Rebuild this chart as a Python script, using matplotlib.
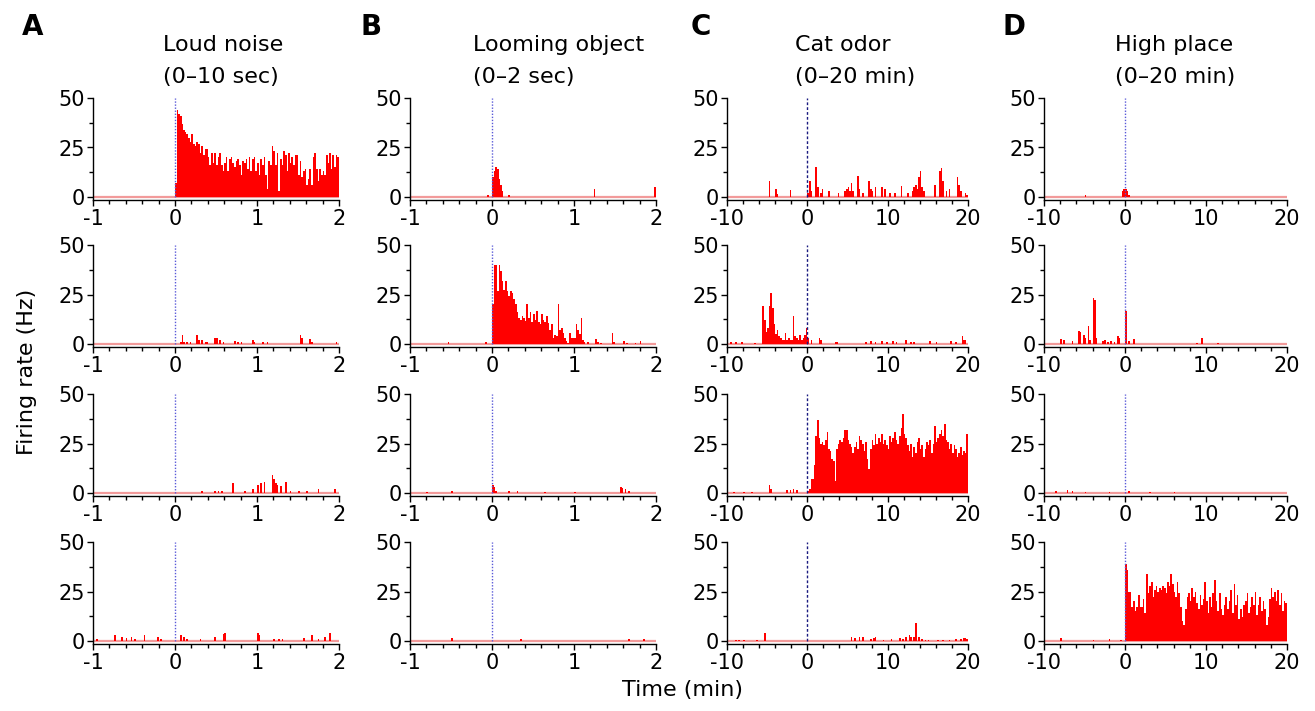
import numpy as np
import matplotlib
matplotlib.use("Agg")
import matplotlib.pyplot as plt
from matplotlib.ticker import MultipleLocator, FixedLocator

plt.rcParams['font.family'] = ['DejaVu Sans']
plt.rcParams['axes.unicode_minus'] = False

# ---------------- data ----------------
BIN_SEC = 0.02   # bin width for columns A, B (seconds)
BIN_MIN = 0.2    # bin width for columns C, D (minutes)

titles = [("Loud noise", "(0\u201310 sec)"), ("Looming object", "(0\u20132 sec)"),
          ("Cat odor", "(0\u201320 min)"), ("High place", "(0\u201320 min)")]
letters = ["A", "B", "C", "D"]
xticks_sec = [-1, 0, 1, 2]
xticks_min = [-10, 0, 10, 20]
yticks = [0, 25, 50]

# Column A (loud noise), rates in Hz
A1_rates = [7, 44, 42, 41, 37, 34, 33, 32, 30, 28, 32, 27, 26, 28, 27, 22, 26, 21, 24, 24,
            20, 16, 22, 17, 22, 16, 20, 22, 16, 13, 17, 20, 13, 19, 20, 17, 15, 18, 19, 16,
            11, 18, 17, 19, 14, 20, 13, 19, 20, 13, 17, 11, 19, 16, 20, 11, 4, 18, 16, 26,
            23, 16, 22, 3, 19, 16, 23, 21, 13, 22, 17, 20, 16, 21, 21, 11, 18, 10, 13, 14,
            6, 9, 14, 6, 20, 22, 14, 8, 14, 11, 13, 11, 21, 17, 22, 14, 21, 15, 21, 20]
A1_start = 0.0
A2_t = [0.06, 0.08, 0.10, 0.14, 0.18, 0.26, 0.28, 0.32, 0.36, 0.38, 0.48, 0.50, 0.54, 0.58,
        0.72, 0.76, 0.80, 0.94, 0.96, 1.06, 1.12, 1.52, 1.54, 1.64, 1.66, 1.96]
A2_r = [1, 4.4, 1, 1, 1, 4.4, 2, 2, 1, 1, 3, 3, 2, 1, 1.5, 1, 1, 2, 1, 1, 1, 4.4, 3, 2.5, 1, 1]
A3_t = [0.32, 0.48, 0.52, 0.56, 0.70, 0.84, 0.94, 1.00, 1.04, 1.08, 1.18, 1.20, 1.22, 1.24,
        1.28, 1.34, 1.40, 1.50, 1.60, 1.74, 1.94]
A3_r = [1, 1, 1, 1, 5, 1, 2, 4, 5, 5.5, 9, 7, 5, 4, 3.5, 5.5, 1, 1, 1, 2, 2]
A4_t = [-0.96, -0.74, -0.66, -0.60, -0.54, -0.50, -0.38, -0.22, -0.18, 0.06, 0.10, 0.14, 0.30,
        0.48, 0.58, 0.60, 1.00, 1.02, 1.20, 1.26, 1.30, 1.56, 1.66, 1.74, 1.82, 1.88]
A4_r = [1, 3, 2, 1.5, 2, 1, 3, 2, 1, 3, 2, 1, 1, 2, 3.5, 4, 4, 3, 1, 1, 1, 1.5, 3, 1, 2, 4]

# Column B (looming object)
B1_t = [-0.06, 0.00, 0.02, 0.04, 0.06, 0.08, 0.10, 0.12, 0.20, 1.24, 1.98]
B1_r = [1, 10, 13, 15, 14, 9, 6, 3, 1, 4, 5]
B2_rates = [20, 40, 40, 27, 40, 37, 32, 27.5, 32, 27, 24, 27, 26, 22.5, 20, 16, 13, 12, 14, 13,
            11.5, 20, 13, 16, 11, 15, 12, 16.5, 11, 10, 15, 12, 11, 14, 10.5, 7, 10, 3, 4.7, 4,
            20, 7, 8, 5.5, 3, 1.3, 0.5, 5.5, 3, 3, 3, 10, 7, 5, 13, 2, 1]
B2_start = 0.0
B2_t = [-0.54, -0.08, 1.16, 1.26, 1.28, 1.32, 1.46, 1.48, 1.60, 1.64, 1.74, 1.80]
B2_r = [1, 1, 1, 2.5, 1, 0.5, 5.5, 1, 1.5, 0.5, 0.5, 1.5]
B3_t = [-0.80, -0.50, 0.00, 0.02, 0.04, 0.20, 0.30, 0.64, 1.00, 1.56, 1.58, 1.62, 1.66]
B3_r = [0.5, 1, 4, 3, 1, 1, 1, 0.5, 0.5, 3, 2.5, 2, 1]
B4_t = [-0.50, 0.34, 1.66, 1.84]
B4_r = [1.5, 0.8, 0.8, 1]

# Column C (cat odor), time in min
C1_t = [-4.8, -4.0, -3.8, -2.2, 0.0, 0.2, 0.4, 1.0, 1.2, 1.6, 1.8, 2.6, 3.8, 4.6, 4.8, 5.0, 5.2,
        5.4, 5.6, 6.2, 6.4, 6.8, 7.6, 7.8, 8.0, 8.4, 9.2, 9.6, 10.2, 10.8, 11.6, 12.4, 13.0,
        13.2, 13.4, 13.6, 13.8, 14.0, 14.2, 14.4, 15.8, 16.4, 16.6, 16.8, 17.2, 17.6, 18.6,
        18.8, 19.0, 19.6, 19.8]
C1_r = [8, 4, 1.5, 3.7, 2, 8, 3, 15, 5, 2, 4, 3, 2, 3, 4, 5, 3, 7, 3, 10.6, 4, 2, 8, 4, 3, 5, 5,
        4, 2, 2, 5.6, 2, 3, 5, 6, 4, 10, 13, 5, 3, 6, 13, 14.4, 8, 3, 4, 10, 6, 3, 2, 1]
C2_t = [-9.6, -9.0, -8.2, -6.6, -5.6, -5.4, -5.2, -5.0, -4.8, -4.6, -4.4, -4.2, -4.0, -3.8,
        -3.6, -3.4, -3.2, -3.0, -2.8, -2.6, -2.4, -2.2, -2.0, -1.8, -1.6, -1.4, -1.2, -1.0,
        -0.8, -0.6, -0.4, -0.2, 0.0, 0.4, 1.4, 1.6, 3.4, 3.6, 7.2, 7.8, 8.4, 9.2, 9.8, 10.6,
        11.0, 12.2, 12.8, 13.2, 15.2, 16.0, 17.8, 18.4, 19.2, 19.4, 19.6]
C2_r = [1, 1, 1, 0.5, 19, 12, 6, 8, 19, 26, 18, 10, 5, 7, 4, 3, 2, 2, 5.6, 2, 3, 2, 2, 14, 4, 3,
        2, 4.7, 2, 3, 4.7, 8, 3, 2, 3, 2, 1, 1, 1, 1.5, 1, 1.5, 1, 1.5, 1, 2, 1, 1, 1.5, 1, 1.5,
        1, 4, 2, 2]
C3_rates = [1, 2, 7, 7, 14, 29, 37, 28, 25, 26, 24, 27, 31, 22, 21, 17, 16, 6, 22, 25,
            27, 26, 28, 32, 32, 27, 25, 23, 20, 23, 26, 22, 29, 27, 25, 21, 26, 17, 12, 22,
            27, 24, 30, 25, 28, 26, 30, 25, 27, 24, 22, 29, 26, 28, 31, 27, 25, 29, 33, 40,
            30, 28, 24, 21, 25, 18, 23, 20, 26, 28, 22, 24, 18, 22, 26, 24, 27, 20, 25, 34,
            26, 28, 30, 32, 29, 35, 27, 26, 22, 25, 20, 24, 22, 18, 20, 23, 19, 21, 20, 30]
C3_start = 0.0
C3_t = [-9.2, -8.0, -7.0, -4.8, -4.6, -2.6, -2.2, -1.8, -1.4]
C3_r = [0.5, 0.5, 0.5, 4, 2, 1.5, 1.5, 2, 1.5]
C4_t = [-9.0, -8.6, -8.0, -6.4, -5.4, 5.4, 5.8, 6.4, 6.8, 7.8, 8.2, 8.4, 9.4, 10.4, 11.4, 11.8,
        12.2, 12.6, 12.8, 13.2, 13.4, 13.8, 14.2, 14.6, 15.0, 16.2, 16.8, 17.6, 18.4, 19.0,
        19.4, 19.6, 19.8]
C4_r = [0.5, 0.5, 0.5, 0.5, 4.2, 2, 1.5, 2, 2, 1, 1.5, 2, 0.5, 1, 1.5, 1, 2, 3, 2, 2, 9, 2, 1,
        0.5, 0.5, 0.5, 0.5, 0.5, 1, 1, 1.5, 1.5, 1]

# Column D (high place)
D1_t = [-5.0, -0.4, -0.2, 0.0, 0.2, 0.4]
D1_r = [1, 3, 4, 4, 3, 1]
D2_t = [-8.0, -7.6, -6.6, -5.8, -5.6, -5.2, -5.0, -4.6, -4.4, -4.0, -3.8, -3.6, -2.8, -2.6,
        -2.2, -1.8, -1.4, -1.0, -0.8, 0.0, 0.4, 1.0, 8.8, 9.4, 11.4]
D2_r = [2.7, 2, 1.5, 6.8, 6, 4.7, 3, 9.3, 2, 23, 22, 3, 1.7, 2, 1, 1.7, 1, 4, 3, 16.6, 1.5,
        2.7, 0.5, 2.9, 0.5]
D3_t = [-8.6, -7.2, -6.6, -5.0, -2.0, 0.4, 3.0, 6.0]
D3_r = [1, 1.5, 1, 0.5, 0.5, 1, 0.5, 0.5]
D4_rates = [39, 36, 25, 25, 17, 20, 15, 17, 23, 17, 17, 21, 14, 34, 24, 28, 30, 22, 26, 28,
            25, 27, 26, 28, 27, 24, 30, 28, 34, 29, 25, 22, 30, 24, 17, 10, 8, 16, 22, 24,
            20, 27, 22, 25, 19, 16, 23, 18, 21, 30, 20, 14, 22, 17, 24, 31, 20, 15, 24, 16,
            13, 18, 22, 16, 20, 26, 14, 29, 18, 23, 11, 16, 12, 18, 20, 24, 14, 17, 22, 18,
            25, 13, 18, 22, 15, 20, 16, 8, 12, 21, 27, 22, 25, 20, 26, 18, 24, 15, 20, 19]
D4_start = 0.0
D4_t = [-8.0, -4.0, -2.0, -0.6]
D4_r = [1.5, 0.5, 1, 0.5]

EMPTY = []
panels = [
    [(A1_start, A1_rates, EMPTY, EMPTY), (0.0, EMPTY, A2_t, A2_r),
     (0.0, EMPTY, A3_t, A3_r), (0.0, EMPTY, A4_t, A4_r)],
    [(0.0, EMPTY, B1_t, B1_r), (B2_start, B2_rates, B2_t, B2_r),
     (0.0, EMPTY, B3_t, B3_r), (0.0, EMPTY, B4_t, B4_r)],
    [(0.0, EMPTY, C1_t, C1_r), (0.0, EMPTY, C2_t, C2_r),
     (C3_start, C3_rates, C3_t, C3_r), (0.0, EMPTY, C4_t, C4_r)],
    [(0.0, EMPTY, D1_t, D1_r), (0.0, EMPTY, D2_t, D2_r),
     (0.0, EMPTY, D3_t, D3_r), (D4_start, D4_rates, D4_t, D4_r)],
]

# ---------------- layout ----------------
W, H = 1315, 711
fig = plt.figure(figsize=(W / 100, H / 100), dpi=100)
col_left = [93, 410, 727, 1044]
col_width = [246, 246, 241, 243]
row_y0 = [197, 344, 493, 641]       # pixel row of y = 0
px_per_hz = 1.98
ymin, ymax = -1.6, 50

FS = 15
for c in range(4):
    sec = c < 2
    bw = BIN_SEC if sec else BIN_MIN
    xlim = (-1, 2) if sec else (-10, 20)
    nb = int(round((xlim[1] - xlim[0]) / bw))
    edges = np.linspace(xlim[0], xlim[1], nb + 1)
    for r in range(4):
        bottom_px = row_y0[r] + (-ymin) * px_per_hz
        height_px = (ymax - ymin) * px_per_hz
        ax = fig.add_axes([col_left[c] / W, 1 - bottom_px / H,
                           col_width[c] / W, height_px / H])
        start, dense, st, sr = panels[c][r]
        vals = np.zeros(nb)
        for i, v in enumerate(dense):
            vals[int(round((start + i * bw - xlim[0]) / bw))] = v
        for tt, v in zip(st, sr):
            vals[int(round((tt - xlim[0]) / bw))] = v
        ax.axhline(0, color='#f29a9a', lw=1.6, zorder=1)
        ax.stairs(vals, edges, fill=True, color='#ff0000', linewidth=0, zorder=2)
        if c == 2:
            ax.plot([0, 0], [0, 50], color='#1a1a80', lw=1.0, ls=(0, (2, 1.5)), zorder=3)
        else:
            ax.plot([0, 0], [0, 50], color='#5a5ad8', lw=1.0, ls=(0, (1, 1.2)), zorder=3)
        ax.set_xlim(*xlim)
        ax.set_ylim(ymin, ymax)
        ax.spines['top'].set_visible(False)
        ax.spines['right'].set_visible(False)
        for s in ('left', 'bottom'):
            ax.spines[s].set_linewidth(1.0)
        ax.set_xticks(xticks_sec if sec else xticks_min)
        ax.xaxis.set_minor_locator(MultipleLocator(0.2 if sec else 2))
        ax.set_yticks(yticks)
        ax.yaxis.set_minor_locator(FixedLocator([12.5, 37.5]))
        ax.tick_params(which='major', direction='out', length=4.5, width=1.0,
                       labelsize=FS, pad=1)
        ax.tick_params(which='minor', direction='out', length=3, width=1.0)
        ax.tick_params(axis='x', which='major', pad=2)

    fig.text([163, 473, 795, 1115][c] / W, 1 - 45 / H, titles[c][0], fontsize=16,
             ha='left', va='center')
    fig.text([163, 473, 795, 1115][c] / W, 1 - 77 / H, titles[c][1], fontsize=16,
             ha='left', va='center')
    fig.text([33, 371, 701, 1014][c] / W, 1 - 27 / H, letters[c], fontsize=20,
             fontweight='bold', ha='center', va='center')

fig.text(27 / W, 1 - 372 / H, "Firing rate (Hz)", rotation=90, fontsize=16,
         ha='center', va='center')
fig.text(683 / W, 1 - 690 / H, "Time (min)", fontsize=16, ha='center', va='center')

fig.savefig("out.png", dpi=100)
